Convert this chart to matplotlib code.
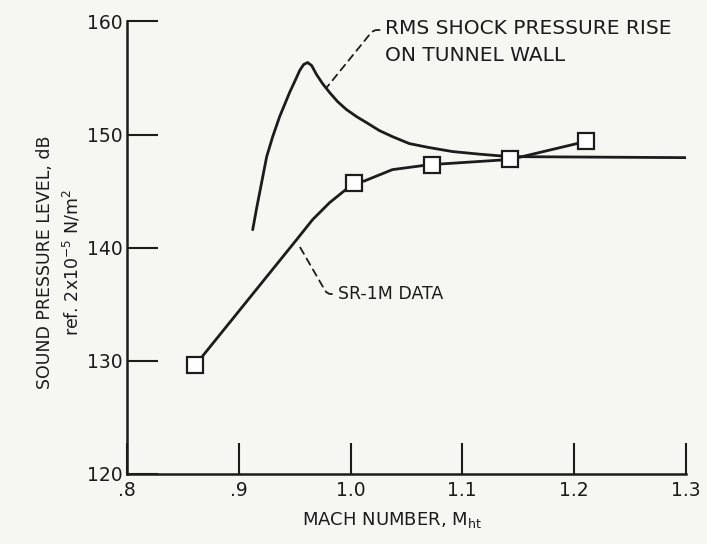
import matplotlib
matplotlib.use("Agg")
import matplotlib.pyplot as plt

plt.rcParams['font.family'] = ['DejaVu Sans']
plt.rcParams['mathtext.fontset'] = 'dejavusans'

# SR-1M measured points
sr_mach = [0.861, 1.003, 1.073, 1.143, 1.211]
sr_spl = [129.6, 145.7, 147.35, 147.8, 149.4]

# faired curve through SR-1M data (traced)
sr_curve_mach = [0.861, 0.9518, 0.9661, 0.9813, 0.9946, 1.003, 1.0125, 1.0375,
                 1.064, 1.073, 1.143, 1.211]
sr_curve_spl = [129.6, 140.71, 142.48, 143.98, 145.04, 145.7, 145.9, 146.9,
                147.25, 147.35, 147.8, 149.4]

# RMS shock pressure rise on tunnel wall (traced)
rms_mach = [0.9125, 0.9161, 0.9196, 0.9250, 0.9304, 0.9366, 0.9455, 0.9509, 0.9545,
            0.9580, 0.9616, 0.9652, 0.9696, 0.9750, 0.9813, 0.9884, 0.9964, 1.0054,
            1.0143, 1.0259, 1.0375, 1.0527, 1.0705, 1.0911, 1.1152, 1.1420, 1.30]
rms_spl = [141.59, 143.54, 145.31, 148.05, 149.82, 151.59, 153.72, 154.87, 155.66,
           156.19, 156.37, 156.11, 155.31, 154.51, 153.72, 152.92, 152.21, 151.59,
           151.06, 150.35, 149.82, 149.20, 148.85, 148.50, 148.27, 148.05, 147.96]

xticks = [0.8, 0.9, 1.0, 1.1, 1.2, 1.3]
xticklabels = ['.8', '.9', '1.0', '1.1', '1.2', '1.3']
yticks = [120, 130, 140, 150, 160]

ink = '#1c1c1c'
fig = plt.figure(figsize=(7.07, 5.44), dpi=100, facecolor='#f6f6f3')
ax = fig.add_axes([0.1796, 0.129, 0.7904, 0.8315])
ax.set_facecolor('none')

ax.plot(rms_mach, rms_spl, color=ink, lw=2.0, zorder=2,
        solid_joinstyle='round', solid_capstyle='round')
ax.plot(sr_curve_mach, sr_curve_spl, color=ink, lw=2.0, zorder=2,
        solid_joinstyle='round')
ax.plot(sr_mach, sr_spl, 's', ms=12, mfc='white', mec=ink, mew=1.6, zorder=3)

ax.set_xlim(0.8, 1.3)
ax.set_ylim(120, 160)
ax.set_xticks(xticks)
ax.set_xticklabels(xticklabels)
ax.set_yticks(yticks)
for s in ['top', 'right']:
    ax.spines[s].set_visible(False)
for s in ['left', 'bottom']:
    ax.spines[s].set_linewidth(1.8)
    ax.spines[s].set_color(ink)
ax.tick_params(direction='in', length=22, width=1.5, color=ink,
               labelsize=13.5, labelcolor=ink)
ax.tick_params(axis='y', pad=3)
ax.tick_params(axis='x', pad=5)

ax.set_xlabel('MACH NUMBER, M$_{\\mathrm{ht}}$', fontsize=13, color=ink)
ax.set_ylabel('SOUND PRESSURE LEVEL, dB\nref. 2x10$^{-5}$ N/m$^2$', fontsize=12.5,
              color=ink, linespacing=1.45)
ax.yaxis.set_label_coords(-0.079, 0.468)
ax.xaxis.set_label_coords(0.474, -0.079)

ax.annotate('RMS SHOCK PRESSURE RISE\nON TUNNEL WALL', xy=(0.979, 154.2),
            xytext=(1.031, 158.2), fontsize=14.5, color=ink, ha='left', va='center',
            linespacing=1.5,
            arrowprops=dict(arrowstyle='-', color=ink, lw=1.3, linestyle=(0, (4, 3)),
                            relpos=(0, 0.76), shrinkA=2, shrinkB=0,
                            connectionstyle='angle,angleA=0,angleB=51,rad=4'))
ax.annotate('SR-1M DATA', xy=(0.9545, 140.1), xytext=(0.9884, 135.9),
            fontsize=12.5, color=ink, ha='left', va='center',
            arrowprops=dict(arrowstyle='-', color=ink, lw=1.3, linestyle=(0, (4, 3)),
                            relpos=(0, 0.5), shrinkA=2, shrinkB=0,
                            connectionstyle='angle,angleA=0,angleB=-60,rad=4'))

fig.savefig('out.png', dpi=100, facecolor=fig.get_facecolor())
